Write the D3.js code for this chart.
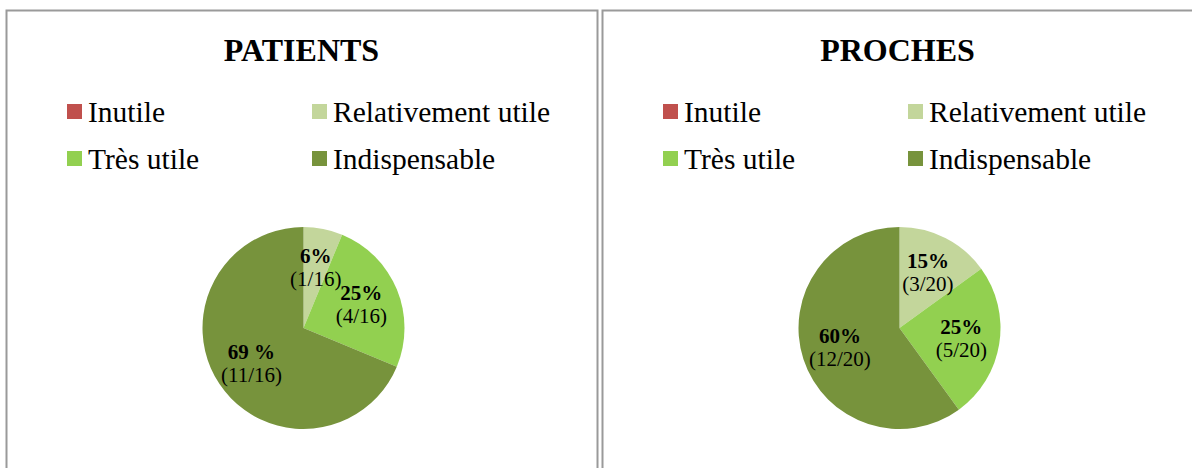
<!DOCTYPE html>
<html>
<head>
<meta charset="utf-8">
<script src="https://cdn.jsdelivr.net/npm/d3@7"></script>
<style>
  body { margin: 0; background: #fff; }
  svg { display: block; font-family: "Liberation Serif", "Times New Roman", serif; }
</style>
</head>
<body>
<div id="chart"></div>
<script>
// categories and values
const categories = ["Inutile", "Relativement utile", "Très utile", "Indispensable"];
const colors = ["#c0504d", "#c3d69b", "#92d050", "#77933c"];

const titles = ["PATIENTS", "PROCHES"];
const patientsCounts = [0, 1, 4, 11];
const prochesCounts = [0, 3, 5, 12];
const patientsPct = ["0%", "6%", "25%", "69 %"];
const prochesPct = ["0%", "15%", "25%", "60%"];

const width = 1192, height = 468;

const svg = d3.select("#chart").append("svg")
    .attr("width", width)
    .attr("height", height);

const color = d3.scaleOrdinal().domain(categories).range(colors);

const pie = d3.pie().sort(null).value(d => d.count);

function drawPanel(x0, panelW, frameW, title, counts, pcts) {
    let g = svg.append("g").attr("transform", `translate(${x0},0)`);

    // frame
    g.append("rect")
        .attr("x", 0.5).attr("y", 10.5)
        .attr("width", frameW).attr("height", height + 20)
        .attr("fill", "none")
        .attr("stroke", "#9a9a9a")
        .attr("stroke-width", 2);

    g.append("text")
        .attr("x", panelW / 2)
        .attr("y", 61)
        .attr("text-anchor", "middle")
        .attr("font-size", 32)
        .attr("font-weight", "bold")
        .text(title);

    // legend, 2 columns
    let leg = g.selectAll(".leg").data(categories).enter().append("g")
        .attr("class", "leg")
        .attr("transform", (d, i) => `translate(${61 + (i % 2) * 245},${104 + Math.floor(i / 2) * 47})`);
    leg.append("rect")
        .attr("width", 15).attr("height", 15)
        .attr("fill", d => color(d));
    leg.append("text")
        .attr("x", 21).attr("y", 17.5)
        .attr("font-size", 29.5)
        .text(d => d);

    // pie
    let total = d3.sum(counts);
    let data = categories.map((c, i) => ({cat: c, count: counts[i], pct: pcts[i], total: total}));
    let r = 101;
    let cx = panelW / 2 + 2, cy = 328;
    let arc = d3.arc().innerRadius(0).outerRadius(r);
    let labelArc = d3.arc().innerRadius(r * 0.62).outerRadius(r * 0.62);

    let pg = g.append("g").attr("transform", `translate(${cx},${cy})`);
    let arcs = pie(data);
    pg.selectAll("path").data(arcs).enter().append("path")
        .attr("d", arc)
        .attr("fill", d => color(d.data.cat));

    let lab = pg.selectAll(".lab").data(arcs.filter(d => d.data.count > 0)).enter().append("text")
        .attr("class", "lab")
        .attr("text-anchor", "middle")
        .attr("font-size", 21)
        .attr("transform", d => `translate(${labelArc.centroid(d)})`);
    lab.append("tspan")
        .attr("x", 0).attr("y", -4)
        .attr("font-weight", "bold")
        .text(d => d.data.pct);
    lab.append("tspan")
        .attr("x", 0).attr("y", 19)
        .text(d => `(${d.data.count}/${d.data.total})`);
}

drawPanel(6, 591, 591, titles[0], patientsCounts, patientsPct);
drawPanel(602, 591, 610, titles[1], prochesCounts, prochesPct);
</script>
</body>
</html>
